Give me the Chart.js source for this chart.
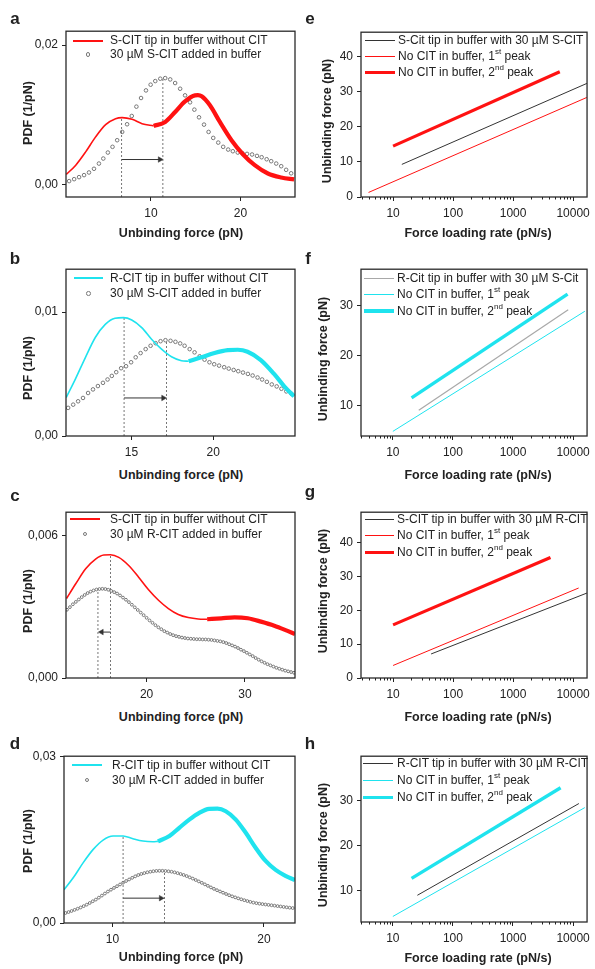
<!DOCTYPE html>
<html><head><meta charset="utf-8">
<script src="https://cdn.jsdelivr.net/npm/chart.js@4.4.1/dist/chart.umd.min.js"></script>
<style>
body{margin:0;background:#fff;width:595px;height:969px;position:relative;overflow:hidden;font-family:"Liberation Sans",Arial,sans-serif;color:#222}
sup{font-size:8px;line-height:8px;vertical-align:top;position:relative;top:-1px}
</style></head><body>
<script>
// ---------- DATA ----------
// Panel a
const aRedThinX = [0.52,1.59,2.7,3.81,4.93,6.04,6.78,7.89,9.0,10.3];
const aRedThinY = [0.00143,0.00277,0.00468,0.00683,0.00859,0.00945,0.00960,0.00935,0.00873,0.0084];
const aRedThickX = [10.3,11.59,12.7,13.81,14.93,15.25,15.67,16.59,17.7,19.0,20.3,21.6,23.07,24.56,26.0];
const aRedThickY = [0.0084,0.00897,0.0104,0.01193,0.01279,0.01282,0.01265,0.01136,0.00897,0.00635,0.0043,0.00277,0.00157,0.001,0.00072];
const aGrayX = [0.85,1.41,1.96,2.52,3.07,3.63,4.18,4.67,5.18,5.70,6.22,6.78,7.33,7.85,8.37,8.89,9.44,9.96,10.48,11.04,11.59,12.15,12.70,13.26,13.81,14.37,14.85,15.37,15.93,16.44,16.96,17.52,18.07,18.63,19.15,19.70,20.22,20.74,21.30,21.85,22.37,22.93,23.44,24.00,24.56,25.11,25.67];
const aGrayY = [0.00048,0.00076,0.00105,0.00134,0.00172,0.00225,0.0030,0.00372,0.00458,0.0054,0.00635,0.00754,0.00864,0.00983,0.01117,0.01241,0.0135,0.01432,0.01484,0.01518,0.01527,0.01508,0.01456,0.01374,0.01279,0.01179,0.01074,0.00964,0.00859,0.00754,0.00668,0.00601,0.0054,0.00501,0.00477,0.00458,0.00448,0.00439,0.0043,0.0041,0.00391,0.00362,0.00334,0.0030,0.00262,0.0021,0.0016];
const aPeaks = [[6.72,0.0096],[11.33,0.01527]];
const aArrow = {x:[6.72,11.0], y:0.00358};

// Panel b
const bCyanThinX = [11.01,11.58,12.19,12.79,13.4,14.0,14.51,15.02,15.63,16.23,16.84,17.45,18.06,18.5];
const bCyanThinY = [0.0031,0.00461,0.00635,0.00795,0.00901,0.0095,0.00955,0.00936,0.00875,0.00781,0.00701,0.0064,0.00608,0.00603];
const bCyanThickX = [18.5,19.27,20.08,20.89,21.5,22.1,22.91,23.72,24.33,24.94];
const bCyanThickY = [0.00603,0.00635,0.0067,0.00693,0.00696,0.0068,0.00613,0.00501,0.00403,0.0032];
const bGrayX = [11.13,11.44,11.74,12.04,12.35,12.65,12.95,13.26,13.54,13.8,14.07,14.37,14.67,14.98,15.26,15.56,15.87,16.17,16.48,16.78,17.08,17.39,17.69,17.98,18.25,18.56,18.86,19.17,19.47,19.77,20.06,20.36,20.67,20.95,21.25,21.53,21.82,22.12,22.41,22.71,22.99,23.28,23.58,23.88,24.17,24.47,24.78];
const bGrayY = [0.00227,0.00253,0.0028,0.00307,0.00347,0.00376,0.00403,0.00429,0.00456,0.00485,0.00515,0.00547,0.00563,0.00595,0.00635,0.00669,0.00701,0.00728,0.00749,0.00765,0.00773,0.00768,0.0076,0.00747,0.00728,0.00701,0.00675,0.00643,0.00616,0.00595,0.00579,0.00568,0.00555,0.00544,0.00533,0.00523,0.00512,0.00501,0.00488,0.00472,0.00456,0.00437,0.00416,0.004,0.00381,0.0036,0.00341];
const bPeaks = [[14.55,0.00955],[17.14,0.00773]];
const bArrow = {x:[14.55,16.95], y:0.00307};

// Panel c
const cRedThinX = [11.85,12.79,13.8,14.81,15.65,16.33,17.17,18.18,19.19,20.2,21.21,22.22,23.23,24.24,25.25,26.16];
const cRedThinY = [0.00334,0.00396,0.00459,0.005,0.00517,0.00518,0.00507,0.00473,0.00424,0.00371,0.00327,0.00292,0.00267,0.00254,0.00248,0.00247];
const cRedThickX = [26.16,27.6,28.95,30.3,31.64,32.99,34.34,35.1];
const cRedThickY = [0.00247,0.00251,0.00255,0.00251,0.00237,0.0022,0.00198,0.00185];
const cGrayX = [11.9,12.2,12.5,12.8,13.1,13.4,13.7,14.0,14.3,14.6,14.9,15.2,15.5,15.8,16.1,16.4,16.7,17.0,17.3,17.6,17.9,18.2,18.5,18.8,19.1,19.4,19.7,20.0,20.3,20.6,20.9,21.2,21.5,21.8,22.1,22.4,22.7,23.0,23.3,23.6,23.9,24.2,24.5,24.8,25.1,25.4,25.7,26.0,26.3,26.6,26.9,27.2,27.5,27.8,28.1,28.4,28.7,29.0,29.3,29.6,29.9,30.2,30.5,30.8,31.1,31.4,31.7,32.0,32.3,32.6,32.9,33.2,33.5,33.8,34.1,34.4,34.7,35.0];
const cGrayY = [0.00287,0.00298,0.0031,0.0032,0.0033,0.0034,0.00349,0.00357,0.00363,0.00368,0.00372,0.00374,0.00375,0.00374,0.00371,0.00366,0.00361,0.00355,0.00347,0.00338,0.00329,0.00319,0.00308,0.00297,0.00286,0.00275,0.00264,0.00253,0.00242,0.00232,0.00222,0.00213,0.00205,0.00197,0.00191,0.00185,0.0018,0.00176,0.00173,0.0017,0.00168,0.00166,0.00165,0.00164,0.00163,0.00163,0.00162,0.00162,0.00161,0.0016,0.00158,0.00156,0.00154,0.00151,0.00147,0.00142,0.00137,0.00132,0.00126,0.00119,0.00113,0.00106,0.00099,0.00092,0.00084,0.00077,0.0007,0.00064,0.00058,0.00053,0.00048,0.00043,0.00039,0.00035,0.00031,0.00028,0.00025,0.00022];
const cPeaks = [[15.05,0.00375],[16.33,0.00518]];
const cArrow = {x:[16.33,15.42], y:0.00193};

// Panel d
const dCyanThinX = [6.8,7.42,8.07,8.73,9.38,10.04,10.7,11.35,12.01,12.67,13.0];
const dCyanThinY = [0.00598,0.00818,0.01086,0.01324,0.01492,0.01564,0.01564,0.01515,0.01474,0.01462,0.01468];
const dCyanThickX = [13.0,13.76,14.41,15.07,15.73,16.38,16.93,17.48,18.14,18.8,19.45,20.11,20.77,21.42,22.05];
const dCyanThickY = [0.01468,0.01564,0.01712,0.0186,0.0198,0.02052,0.02057,0.0201,0.0186,0.01622,0.01354,0.01116,0.00955,0.00848,0.00772];
const dGrayX = [6.9,7.1,7.3,7.5,7.7,7.9,8.1,8.3,8.5,8.7,8.9,9.1,9.3,9.5,9.7,9.9,10.1,10.3,10.5,10.7,10.9,11.1,11.3,11.5,11.7,11.9,12.1,12.3,12.5,12.7,12.9,13.1,13.3,13.5,13.7,13.9,14.1,14.3,14.5,14.7,14.9,15.1,15.3,15.5,15.7,15.9,16.1,16.3,16.5,16.7,16.9,17.1,17.3,17.5,17.7,17.9,18.1,18.3,18.5,18.7,18.9,19.1,19.3,19.5,19.7,19.9,20.1,20.3,20.5,20.7,20.9,21.1,21.3,21.5,21.7,21.9];
const dGrayY = [0.0018,0.00197,0.00216,0.00236,0.00257,0.00279,0.00304,0.0033,0.0036,0.00391,0.00421,0.00456,0.00493,0.0053,0.00566,0.00599,0.00631,0.00662,0.00693,0.00725,0.00755,0.00783,0.00812,0.00839,0.00863,0.00882,0.00898,0.00912,0.00922,0.00931,0.00937,0.00939,0.00939,0.00936,0.0093,0.00922,0.00911,0.00897,0.00881,0.00864,0.00844,0.00821,0.00799,0.00773,0.00748,0.00722,0.00695,0.00668,0.0064,0.00614,0.0059,0.00567,0.00545,0.00522,0.005,0.00479,0.00461,0.00443,0.00426,0.0041,0.00395,0.0038,0.00367,0.00357,0.00348,0.0034,0.00333,0.00326,0.00319,0.00312,0.00304,0.00297,0.00289,0.00282,0.00275,0.00269];
const dPeaks = [[10.7,0.01564],[13.43,0.00937]];
const dArrow = {x:[10.7,13.2], y:0.00447};

// Panels e-h: fitted lines (loading rate pN/s, force pN), [start, end]
const eBlackX = [14,17000],   eBlackY = [9.3,32.4];
const eRed1X  = [3.9,17000],  eRed1Y  = [1.3,28.4];
const eRed2X  = [10,6000],    eRed2Y  = [14.5,35.7];
const fGrayX  = [27,8300],    fGrayY  = [9.15,29.1];
const fCyan1X = [10,15700],   fCyan1Y = [4.96,28.8];
const fCyan2X = [20.5,8100],  fCyan2Y = [11.6,32.2];
const gBlackX = [43,17000],   gBlackY = [7.1,25.1];
const gRed1X  = [10,12400],   gRed1Y  = [3.7,26.6];
const gRed2X  = [10,4200],    gRed2Y  = [15.7,35.6];
const hBlackX = [25.6,12500], hBlackY = [9.05,29.4];
const hCyan1X = [10,15700],   hCyan1Y = [4.35,28.5];
const hCyan2X = [20.5,6200],  hCyan2Y = [12.8,32.9];

// Tick labels
const logMajor = [10,100,1000,10000];
const logMinor = [3,4,5,6,7,8,9,20,30,40,50,60,70,80,90,200,300,400,500,600,700,800,900,2000,3000,4000,5000,6000,7000,8000,9000];
const forceTicks = [0,10,20,30,40];
const forceTicks2 = [10,20,30];

// Legend labels
const legA = ['S-CIT tip in buffer without CIT','30 µM S-CIT added in buffer'];
const legB = ['R-CIT tip in buffer without CIT','30 µM S-CIT added in buffer'];
const legC = ['S-CIT tip in buffer without CIT','30 µM R-CIT added in buffer'];
const legD = ['R-CIT tip in buffer without CIT','30 µM R-CIT added in buffer'];
const legE = ['S-Cit tip in buffer with 30 µM S-CIT','No CIT in buffer, 1<sup>st</sup> peak','No CIT in buffer, 2<sup>nd</sup> peak'];
const legF = ['R-Cit tip in buffer with 30 µM S-Cit','No CIT in buffer, 1<sup>st</sup> peak','No CIT in buffer, 2<sup>nd</sup> peak'];
const legG = ['S-CIT tip in buffer with 30 µM R-CIT','No CIT in buffer, 1<sup>st</sup> peak','No CIT in buffer, 2<sup>nd</sup> peak'];
const legH = ['R-CIT tip in buffer with 30 µM R-CIT','No CIT in buffer, 1<sup>st</sup> peak','No CIT in buffer, 2<sup>nd</sup> peak'];

// ---------- DRAWING ----------
const RED = '#ff1212', CYAN = '#1fe3ee', GRAYDOT = '#777777', INK = '#222';
Chart.defaults.font.family = '"Liberation Sans", Arial, sans-serif';
Chart.defaults.color = INK;

const boxPlugin = {
  id: 'box',
  afterDatasetsDraw(chart, args, opts) {
    const {ctx, chartArea: a} = chart;
    ctx.save();
    ctx.strokeStyle = '#2a2a2a'; ctx.lineWidth = 1.3;
    ctx.strokeRect(a.left, a.top, a.right - a.left, a.bottom - a.top);
    if (opts && opts.minor) {
      const xs = chart.scales.x;
      ctx.lineWidth = 1; ctx.strokeStyle = INK; ctx.beginPath();
      opts.minor.forEach(v => {
        const p = xs.getPixelForValue(v);
        if (p < a.left || p > a.right) return;
        const q = Math.round(p) + 0.5;
        ctx.moveTo(q, a.bottom); ctx.lineTo(q, a.bottom + 2.5);
      });
      ctx.stroke();
    }
    ctx.restore();
  }
};

const pts = (xs, ys) => xs.map((x, i) => ({x, y: ys[i]}));
const line = (xs, ys, color, w, extra) => Object.assign({
  data: pts(xs, ys), showLine: true, borderColor: color, borderWidth: w,
  pointRadius: 0, pointHoverRadius: 0, fill: false, cubicInterpolationMode: 'monotone'
}, extra || {});
const dots = (xs, ys, r) => ({
  data: pts(xs, ys), showLine: false, pointRadius: r, pointStyle: 'circle',
  pointBorderColor: GRAYDOT, pointBackgroundColor: 'rgba(255,255,255,0)', pointBorderWidth: 1
});
const vline = (x, y0, y1) => line([x, x], [y0, y1], '#555', 0.8, {borderDash: [2, 2], cubicInterpolationMode: 'default', tension: 0});
const arrow = (xs, y, rot) => line(xs, [y, y], '#333', 1, {
  cubicInterpolationMode: 'default', tension: 0, pointRadius: [0, 3.2], pointStyle: 'triangle',
  rotation: [0, rot], pointBackgroundColor: '#333', pointBorderColor: '#333', pointBorderWidth: 0.5
});

function panel(colLeft, box, datasets, xo, yo, minor) {
  const w = 300, top = box[1] - 10, h = box[3] - box[1] + 40;
  const cv = document.createElement('canvas');
  cv.width = w; cv.height = h;
  cv.style.cssText = `position:absolute;left:${colLeft}px;top:${top}px;width:${w}px;height:${h}px`;
  document.body.appendChild(cv);
  const L = box[0] - colLeft, R = colLeft + w - box[2];
  const axis = (o, isX) => ({
    type: o.type || 'linear', min: o.min, max: o.max,
    afterFit: s => { if (isX) s.height = 30; else s.width = L; },
    afterBuildTicks: s => { s.ticks = o.ticks.map(v => ({value: v})); },
    grid: {drawOnChartArea: false, drawTicks: true, tickLength: 4, color: INK, tickWidth: 1},
    border: {display: false},
    ticks: {font: {size: 12}, color: INK, padding: isX ? 5 : 4, autoSkip: false, maxRotation: 0, callback: o.fmt}
  });
  new Chart(cv, {
    type: 'scatter',
    data: {datasets},
    options: {
      responsive: false, animation: false, devicePixelRatio: 1,
      layout: {padding: {top: 10, right: R, left: 0, bottom: 0}},
      plugins: {legend: {display: false}, tooltip: {enabled: false}, box: {minor}},
      scales: {x: axis(xo, true), y: axis(yo, false)}
    },
    plugins: [boxPlugin]
  });
}

const comma = d => v => Number(v).toFixed(d).replace('.', ',');
const plain = v => String(v);

// a
panel(0, [66,30,296,197], [
  line(aRedThinX, aRedThinY, RED, 1.6), line(aRedThickX, aRedThickY, RED, 4.2),
  dots(aGrayX, aGrayY, 1.8),
  vline(aPeaks[0][0], -0.0018, aPeaks[0][1]), vline(aPeaks[1][0], -0.0018, aPeaks[1][1]),
  arrow(aArrow.x, aArrow.y, 90)
], {min: 0.5, max: 26.1, ticks: [10, 20], fmt: plain}, {min: -0.0018, max: 0.022, ticks: [0, 0.02], fmt: comma(2)});
// b
panel(0, [66,268,296,436], [
  line(bCyanThinX, bCyanThinY, CYAN, 1.6), line(bCyanThickX, bCyanThickY, CYAN, 4.2),
  dots(bGrayX, bGrayY, 1.8),
  vline(bPeaks[0][0], 0, bPeaks[0][1]), vline(bPeaks[1][0], 0, bPeaks[1][1]),
  arrow(bArrow.x, bArrow.y, 90)
], {min: 11, max: 25, ticks: [15, 20], fmt: plain}, {min: 0, max: 0.01346, ticks: [0, 0.01], fmt: comma(2)});
// c
panel(0, [66,511,296,678], [
  line(cRedThinX, cRedThinY, RED, 1.6), line(cRedThickX, cRedThickY, RED, 4.2),
  dots(cGrayX, cGrayY, 1.4),
  vline(cPeaks[0][0], 0, cPeaks[0][1]), vline(cPeaks[1][0], 0, cPeaks[1][1]),
  arrow(cArrow.x, cArrow.y, -90)
], {min: 11.8, max: 35.1, ticks: [20, 30], fmt: plain}, {min: 0, max: 0.00697, ticks: [0, 0.006], fmt: comma(3)});
// d
panel(0, [64,755,296,923], [
  line(dCyanThinX, dCyanThinY, CYAN, 1.6), line(dCyanThickX, dCyanThickY, CYAN, 4.2),
  dots(dGrayX, dGrayY, 1.4),
  vline(dPeaks[0][0], 0, dPeaks[0][1]), vline(dPeaks[1][0], 0, dPeaks[1][1]),
  arrow(dArrow.x, dArrow.y, 90)
], {min: 6.8, max: 22.05, ticks: [10, 20], fmt: plain}, {min: 0, max: 0.03, ticks: [0, 0.03], fmt: comma(2)});

const lg = (xs, ys, c, w) => line(xs, ys, c, w, {cubicInterpolationMode: 'default', tension: 0});
// e
panel(295, [361,31,591,197], [
  lg(eBlackX, eBlackY, '#333', 1), lg(eRed1X, eRed1Y, RED, 1), lg(eRed2X, eRed2Y, RED, 3.2)
], {type: 'logarithmic', min: 2.92, max: 17100, ticks: logMajor, fmt: plain}, {min: 0, max: 47, ticks: forceTicks, fmt: plain}, logMinor);
// f
panel(295, [361,268,591,436], [
  lg(fGrayX, fGrayY, '#a8a8a8', 1.2), lg(fCyan1X, fCyan1Y, CYAN, 1), lg(fCyan2X, fCyan2Y, CYAN, 3.4)
], {type: 'logarithmic', min: 2.95, max: 17100, ticks: logMajor, fmt: plain}, {min: 4.04, max: 37.15, ticks: forceTicks2, fmt: plain}, logMinor);
// g
panel(295, [361,511,591,678], [
  lg(gBlackX, gBlackY, '#333', 1), lg(gRed1X, gRed1Y, RED, 1), lg(gRed2X, gRed2Y, RED, 3.2)
], {type: 'logarithmic', min: 2.92, max: 17100, ticks: logMajor, fmt: plain}, {min: 0, max: 49, ticks: forceTicks, fmt: plain}, logMinor);
// h
panel(295, [361,755,591,922], [
  lg(hBlackX, hBlackY, '#333', 1), lg(hCyan1X, hCyan1Y, CYAN, 1), lg(hCyan2X, hCyan2Y, CYAN, 3.4)
], {type: 'logarithmic', min: 2.95, max: 17100, ticks: logMajor, fmt: plain}, {min: 3.12, max: 39.9, ticks: forceTicks2, fmt: plain}, logMinor);

// ---------- TEXT ----------
function addDiv(html, css) {
  const d = document.createElement('div');
  d.innerHTML = html;
  d.style.cssText = 'position:absolute;white-space:nowrap;' + css;
  document.body.appendChild(d);
}
const letter = (ch, x, y) => addDiv(ch, `left:${x}px;top:${y}px;font-weight:bold;font-size:17px;line-height:17px;transform:translate(-50%,-50%)`);
const xTitle = (s, x, y) => addDiv(s, `left:${x}px;top:${y}px;font-weight:bold;font-size:12.5px;line-height:14px;transform:translate(-50%,-50%)`);
const yTitle = (s, x, y) => addDiv(s, `left:${x}px;top:${y}px;font-weight:bold;font-size:12.5px;line-height:14px;transform:translate(-50%,-50%) rotate(-90deg)`);
function legRow(y, x1, x2, tx, text, s) {
  if (s.dot) addDiv('', `left:${(x1 + x2) / 2 - 2.3}px;top:${y - 2.3}px;width:2.6px;height:2.6px;border:1px solid ${GRAYDOT};border-radius:50%`);
  else addDiv('', `left:${x1}px;top:${y - s.w / 2}px;width:${x2 - x1}px;height:${s.w}px;background:${s.c}`);
  addDiv(text, `left:${tx}px;top:${y - 7.5}px;font-size:12px;line-height:15px;color:${INK}`);
}

[['a',15,18],['b',15,258],['c',15,495],['d',15,743],['e',310,18],['f',308,258],['g',310,491],['h',310,743]]
  .forEach(l => letter(...l));
[[233],[475],[717],[957]].forEach(([y]) => xTitle('Unbinding force (pN)', 181, y));
[[233],[475],[717],[958]].forEach(([y]) => xTitle('Force loading rate (pN/s)', 478, y));
[[113],[368],[601],[841]].forEach(([y]) => yTitle('PDF (1/pN)', 28, y));
yTitle('Unbinding force (pN)', 327, 121);
yTitle('Unbinding force (pN)', 323, 359);
yTitle('Unbinding force (pN)', 323, 591);
yTitle('Unbinding force (pN)', 323, 845);

// legends a-d
legRow(40.7, 73, 103, 110, legA[0], {c: RED, w: 2}); legRow(54.3, 73, 103, 110, legA[1], {dot: 1});
legRow(278.3, 74, 103, 110, legB[0], {c: CYAN, w: 2}); legRow(293.3, 74, 103, 110, legB[1], {dot: 1});
legRow(519.3, 70, 100, 110, legC[0], {c: RED, w: 2}); legRow(534, 70, 100, 110, legC[1], {dot: 1});
legRow(765, 72, 102, 112, legD[0], {c: CYAN, w: 2}); legRow(780, 72, 102, 112, legD[1], {dot: 1});
// legends e-h
legRow(40.7, 365, 395, 398, legE[0], {c: '#333', w: 1}); legRow(56.7, 365, 395, 398, legE[1], {c: RED, w: 1}); legRow(72.7, 365, 395, 398, legE[2], {c: RED, w: 3});
legRow(278.3, 364, 394, 397, legF[0], {c: '#a8a8a8', w: 1.2}); legRow(294.3, 364, 394, 397, legF[1], {c: CYAN, w: 1}); legRow(311, 364, 394, 397, legF[2], {c: CYAN, w: 3.2});
legRow(519.3, 365, 394, 397, legG[0], {c: '#333', w: 1}); legRow(535.7, 365, 394, 397, legG[1], {c: RED, w: 1}); legRow(552.3, 365, 394, 397, legG[2], {c: RED, w: 3});
legRow(763.3, 363, 393, 397, legH[0], {c: '#333', w: 1}); legRow(780, 363, 393, 397, legH[1], {c: CYAN, w: 1}); legRow(797.7, 363, 393, 397, legH[2], {c: CYAN, w: 3.2});
</script>
</body></html>
